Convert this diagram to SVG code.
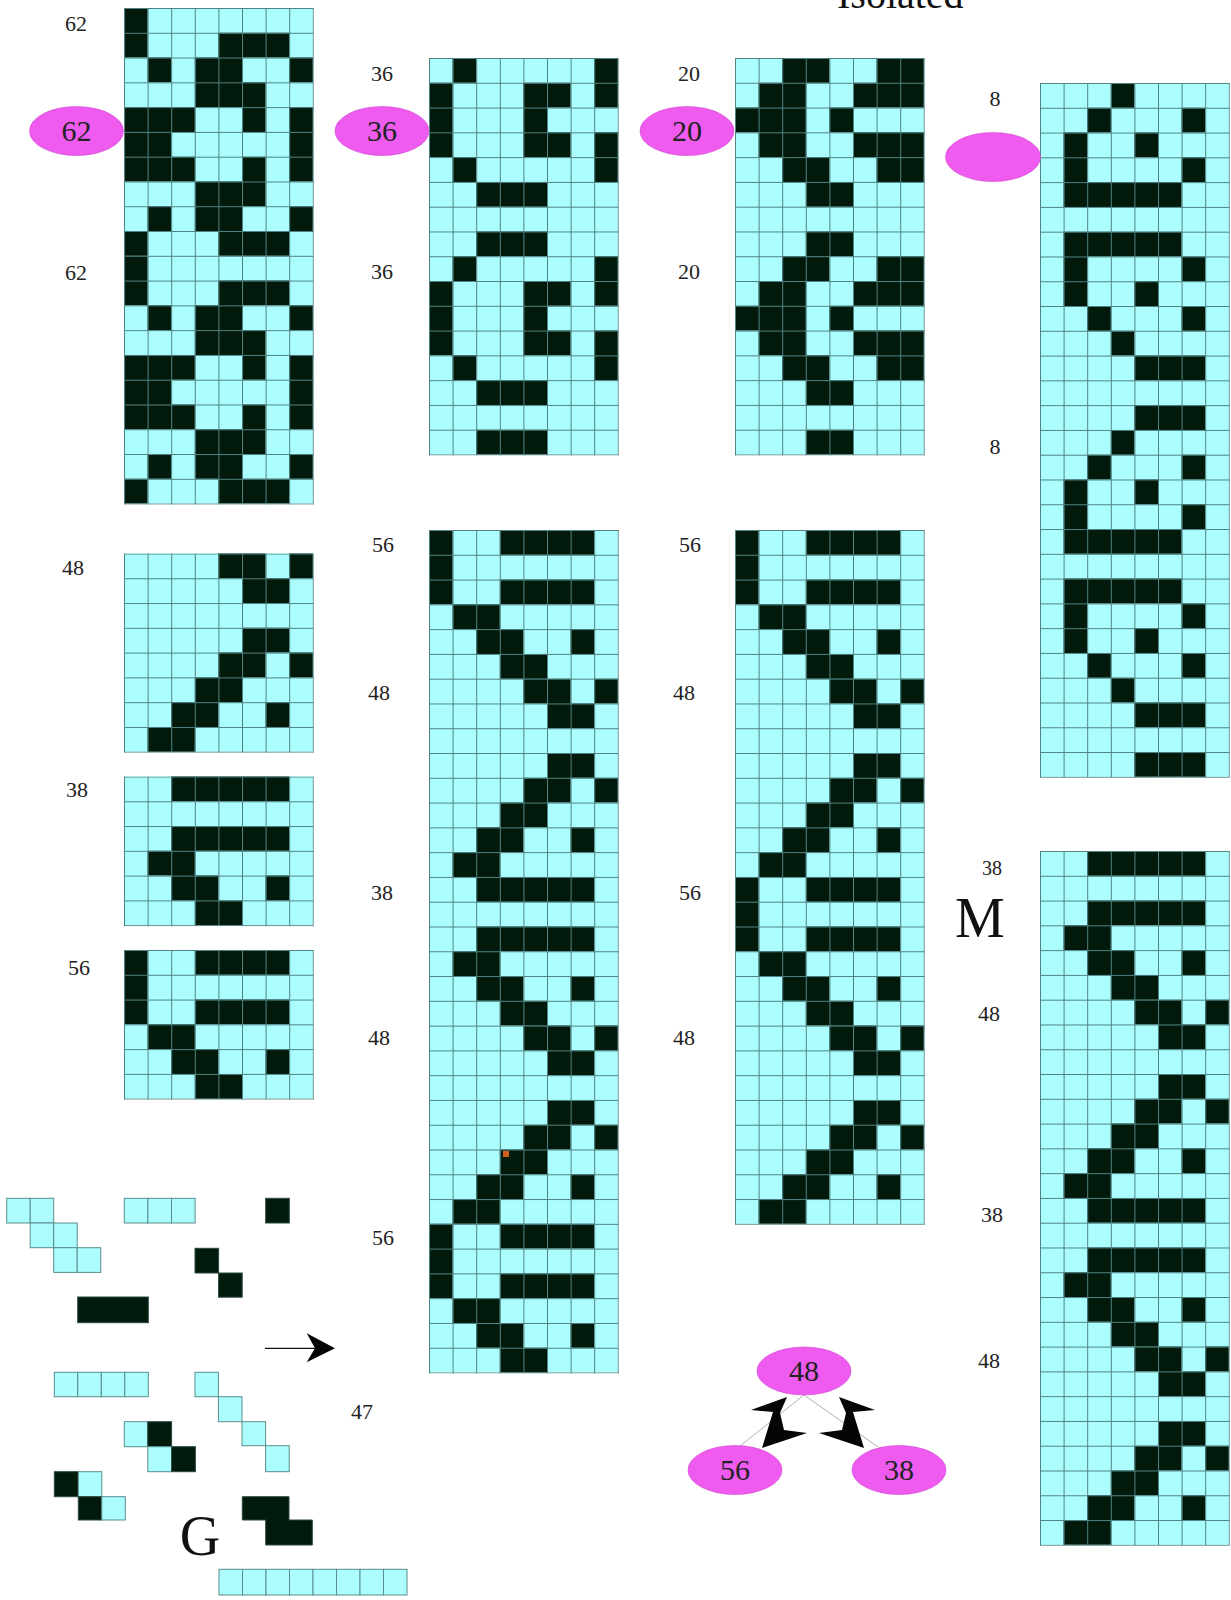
<svg xmlns="http://www.w3.org/2000/svg" xmlns:xlink="http://www.w3.org/1999/xlink" width="1231" height="1600" viewBox="0 0 1231 1600">
<style>
.bg{fill:#acfefe}
.blk{fill:#021a0c}
.lbl{font-family:"Liberation Serif","Times New Roman",serif;font-size:22px;fill:#222;text-anchor:middle}
.big{font-size:30px}
.huge{font-family:"Liberation Serif","Times New Roman",serif;font-size:56px;fill:#111;text-anchor:middle}
.node{fill:#ee5bee;stroke:#d048d0;stroke-width:0.6}
.edge{stroke:#b0b0b0;stroke-width:1;fill:none}
.zz{fill:#050505}
.c{fill:#acfefe;stroke:#5a8c8c;stroke-width:1}
.k{fill:#021a0c;stroke:#2a4a40;stroke-width:1}
</style>
<defs>
<pattern id="gl" width="23.6" height="24.78" patternUnits="userSpaceOnUse">
<rect width="23.6" height="1" fill="#4f8282"/>
<rect width="1" height="24.78" fill="#4f8282"/>
</pattern>
<path id="p62" d="M0 0H1V2H0ZM4 1H7V2H5V3H6V4H3V2H4ZM1 2h1v1h-1zM7 2h1v1h-1zM0 4H3V5H2V6H3V7H0ZM5 4h1v1h-1zM5 6h1v1h-1zM7 4H8V7H7ZM3 7H6V8H5V9H7V10H4V9H3ZM1 8h1v1h-1zM7 8h1v1h-1zM0 9h1v1h-1z"/>
<path id="s56" d="M0 0H1V3H0ZM3 0H7V1H3ZM3 2H7V3H3ZM1 3H3V4H4V5H5V6H3V5H2V4H1ZM6 4h1v1h-1z"/>
<path id="s48" d="M4 0H6V1H7V2H5V1H4ZM7 0h1v1h-1zM5 3H7V4H6V5H5V6H4V7H3V8H1V7H2V6H3V5H4V4H5ZM7 4h1v1h-1zM6 6h1v1h-1z"/>
<path id="s38" d="M2 0H7V1H2ZM2 2H7V3H3V4H4V5H5V6H3V5H2V4H1V3H2ZM6 4h1v1h-1z"/>
<path id="s36" d="M1 0h1v1h-1zM7 0H8V2H7ZM0 1H1V4H0ZM4 1H6V2H5V3H6V4H4ZM7 3H8V5H7ZM1 4h1v1h-1zM2 5H5V6H2ZM2 7H5V8H2Z"/>
<path id="s20" d="M2 0H4V1H3V4H4V5H5V6H3V5H2V4H1V3H0V2H1V1H2ZM6 0H8V2H5V1H6ZM4 2h1v1h-1zM5 3H8V5H6V4H5ZM3 7H5V8H3Z"/>
<path id="s8" d="M3 0h1v1h-1zM2 1h1v1h-1zM6 1h1v1h-1zM1 2H2V4H6V5H1ZM4 2h1v1h-1zM6 3h1v1h-1zM1 6H6V7H2V9H1ZM6 7h1v1h-1zM4 8h1v1h-1zM2 9h1v1h-1zM6 9h1v1h-1zM3 10h1v1h-1zM4 11H7V12H4ZM4 13H7V14H4Z"/>
</defs>
<rect width="1231" height="1600" fill="#ffffff"/>

<text x="837" y="8" style="font-family:'Liberation Serif','Times New Roman',serif;font-size:40px;fill:#111">Isolated</text>

<!-- Column 1 -->
<g id="grid-c1-top" transform="translate(124 8)">
<rect class="bg" width="188.8" height="495.6"/>
<g class="blk" transform="scale(23.6 24.78)"><use xlink:href="#p62" href="#p62"/><use xlink:href="#p62" href="#p62" y="10"/></g>
<rect width="189.8" height="496.6" fill="url(#gl)"/>
</g>
<g id="grid-c1-48" transform="translate(124 553.5)">
<rect class="bg" width="188.8" height="198.2"/>
<g class="blk" transform="scale(23.6 24.78)"><use xlink:href="#s48" href="#s48"/></g>
<rect width="189.8" height="199.2" fill="url(#gl)"/>
</g>
<g id="grid-c1-38" transform="translate(124 776.5)">
<rect class="bg" width="188.8" height="148.7"/>
<g class="blk" transform="scale(23.6 24.78)"><use xlink:href="#s38" href="#s38"/></g>
<rect width="189.8" height="149.7" fill="url(#gl)"/>
</g>
<g id="grid-c1-56" transform="translate(124 950)">
<rect class="bg" width="188.8" height="148.7"/>
<g class="blk" transform="scale(23.6 24.78)"><use xlink:href="#s56" href="#s56"/></g>
<rect width="189.8" height="149.7" fill="url(#gl)"/>
</g>

<!-- Column 2 -->
<g id="grid-c2-top" transform="translate(429 58)">
<rect class="bg" width="188.8" height="396.5"/>
<g class="blk" transform="scale(23.6 24.78)"><use xlink:href="#s36" href="#s36"/><use xlink:href="#s36" href="#s36" y="8"/></g>
<rect width="189.8" height="397.5" fill="url(#gl)"/>
</g>
<g id="grid-c2-bottom" transform="translate(429 530)">
<rect class="bg" width="188.8" height="842.5"/>
<g class="blk" transform="scale(23.6 24.78)"><use xlink:href="#s56" href="#s56"/><use xlink:href="#s48" href="#s48" y="6"/><use xlink:href="#s38" href="#s38" y="14"/><use xlink:href="#s48" href="#s48" y="20"/><use xlink:href="#s56" href="#s56" y="28"/></g>
<rect width="189.8" height="843.5" fill="url(#gl)"/>
<rect x="74" y="621" width="6" height="6" fill="#d2601a"/>
</g>

<!-- Column 3 -->
<g id="grid-c3-top" transform="translate(735 58)">
<rect class="bg" width="188.8" height="396.5"/>
<g class="blk" transform="scale(23.6 24.78)"><use xlink:href="#s20" href="#s20"/><use xlink:href="#s20" href="#s20" y="8"/></g>
<rect width="189.8" height="397.5" fill="url(#gl)"/>
</g>
<g id="grid-c3-bottom" transform="translate(735 530)">
<rect class="bg" width="188.8" height="693.8"/>
<g class="blk" transform="scale(23.6 24.78)"><use xlink:href="#s56" href="#s56"/><use xlink:href="#s48" href="#s48" y="6"/><use xlink:href="#s56" href="#s56" y="14"/><use xlink:href="#s48" href="#s48" y="20"/></g>
<rect width="189.8" height="694.8" fill="url(#gl)"/>
</g>

<!-- Column 4 -->
<g id="grid-c4-top" transform="translate(1040 83)">
<rect class="bg" width="188.8" height="693.8"/>
<g class="blk" transform="scale(23.6 24.78)"><use xlink:href="#s8" href="#s8"/><use xlink:href="#s8" href="#s8" y="14"/></g>
<rect width="189.8" height="694.8" fill="url(#gl)"/>
</g>
<g id="grid-c4-bottom" transform="translate(1040 851)">
<rect class="bg" width="188.8" height="693.8"/>
<g class="blk" transform="scale(23.6 24.78)"><use xlink:href="#s38" href="#s38"/><use xlink:href="#s48" href="#s48" y="6"/><use xlink:href="#s38" href="#s38" y="14"/><use xlink:href="#s48" href="#s48" y="20"/></g>
<rect width="189.8" height="694.8" fill="url(#gl)"/>
</g>

<!-- Labels -->
<g id="labels" class="lbl">
<text x="76" y="31">62</text>
<text x="76" y="280">62</text>
<text x="73" y="575">48</text>
<text x="77" y="797">38</text>
<text x="79" y="975">56</text>
<text x="382" y="81">36</text>
<text x="382" y="279">36</text>
<text x="383" y="552">56</text>
<text x="379" y="700">48</text>
<text x="382" y="900">38</text>
<text x="379" y="1045">48</text>
<text x="383" y="1245">56</text>
<text x="362" y="1419">47</text>
<text x="689" y="81">20</text>
<text x="689" y="279">20</text>
<text x="690" y="552">56</text>
<text x="684" y="700">48</text>
<text x="690" y="900">56</text>
<text x="684" y="1045">48</text>
<text x="995" y="106">8</text>
<text x="995" y="454">8</text>
<text x="992" y="875" style="font-size:20px">38</text>
<text x="989" y="1021">48</text>
<text x="992" y="1222">38</text>
<text x="989" y="1368">48</text>
</g>
<text class="huge" x="980" y="937">M</text>
<text class="huge" x="200" y="1555">G</text>

<!-- Ellipse nodes -->
<g id="node-62"><ellipse class="node" cx="76.5" cy="131" rx="47" ry="24.5"/><text class="lbl big" x="76.5" y="141">62</text></g>
<g id="node-36"><ellipse class="node" cx="382" cy="131" rx="47" ry="24.5"/><text class="lbl big" x="382" y="141">36</text></g>
<g id="node-20"><ellipse class="node" cx="687" cy="131" rx="47" ry="24.5"/><text class="lbl big" x="687" y="141">20</text></g>
<g id="node-8"><ellipse class="node" cx="993" cy="157" rx="47.5" ry="24.5"/></g>

<!-- Small graph -->
<g id="connectors">
<path class="edge" d="M740 1446L804 1395M804 1395L878 1447"/>
<polygon class="zz" points="787,1397 751,1410 773,1412 762,1448 807,1433 784,1430 780,1413"/>
<polygon class="zz" points="839,1397 875,1410 853,1412 864,1448 819,1433 842,1430 846,1413"/>
<path d="M265 1348.3H322" stroke="#111" stroke-width="1.2" fill="none"/>
<polygon class="zz" points="335,1348.3 306.7,1333.3 315,1348.3 306.7,1362.3"/>
</g>
<g id="node-48"><ellipse class="node" cx="804" cy="1371" rx="47" ry="24"/><text class="lbl big" x="804" y="1381">48</text></g>
<g id="node-56"><ellipse class="node" cx="735" cy="1470" rx="47" ry="24.5"/><text class="lbl big" x="735" y="1480">56</text></g>
<g id="node-38"><ellipse class="node" cx="899" cy="1470" rx="47" ry="24.5"/><text class="lbl big" x="899" y="1480">38</text></g>

<!-- Loose pieces bottom-left -->
<g id="pieces">
<rect class="c" x="6.7" y="1198.3" width="23.5" height="24.7"/>
<rect class="c" x="30.2" y="1198.3" width="23.5" height="24.7"/>
<rect class="c" x="30.2" y="1223" width="23.5" height="24.7"/>
<rect class="c" x="53.7" y="1223" width="23.5" height="24.7"/>
<rect class="c" x="53.7" y="1247.7" width="23.5" height="24.7"/>
<rect class="c" x="77.2" y="1247.7" width="23.5" height="24.7"/>

<rect class="c" x="124.3" y="1198.3" width="23.6" height="24.7"/>
<rect class="c" x="147.9" y="1198.3" width="23.6" height="24.7"/>
<rect class="c" x="171.5" y="1198.3" width="23.6" height="24.7"/>

<rect class="k" x="265.7" y="1198.3" width="23.6" height="24.7"/>

<rect class="k" x="195" y="1248.3" width="23.6" height="24.7"/>
<rect class="k" x="218.6" y="1273" width="23.6" height="24.2"/>

<rect class="k" x="77.7" y="1297" width="70.6" height="25.7"/>

<rect class="c" x="54.3" y="1372.3" width="23.5" height="24.4"/>
<rect class="c" x="77.8" y="1372.3" width="23.5" height="24.4"/>
<rect class="c" x="101.3" y="1372.3" width="23.5" height="24.4"/>
<rect class="c" x="124.8" y="1372.3" width="23.5" height="24.4"/>

<rect class="c" x="195" y="1372.3" width="23.4" height="24.4"/>
<rect class="c" x="218.4" y="1396.7" width="23.6" height="25"/>
<rect class="c" x="242" y="1421.7" width="23.6" height="24"/>
<rect class="c" x="265.6" y="1445.7" width="23.6" height="26"/>

<rect class="c" x="124.3" y="1421.7" width="23.5" height="25"/>
<rect class="k" x="147.8" y="1421.7" width="23.8" height="25"/>
<rect class="c" x="147.8" y="1446.7" width="23.8" height="25"/>
<rect class="k" x="171.6" y="1446.7" width="23.8" height="25"/>

<rect class="k" x="54.3" y="1471.7" width="24" height="25"/>
<rect class="c" x="78.3" y="1471.7" width="23.5" height="25"/>
<rect class="k" x="78.3" y="1496.7" width="23.5" height="23.3"/>
<rect class="c" x="101.8" y="1496.7" width="23.5" height="23.3"/>

<path class="k" d="M242.3 1496.7H289V1520H312.3V1545H265.7V1520H242.3Z"/>

<rect class="c" x="219" y="1569.3" width="23.5" height="25.7"/>
<rect class="c" x="242.5" y="1569.3" width="23.5" height="25.7"/>
<rect class="c" x="266" y="1569.3" width="23.5" height="25.7"/>
<rect class="c" x="289.5" y="1569.3" width="23.5" height="25.7"/>
<rect class="c" x="313" y="1569.3" width="23.5" height="25.7"/>
<rect class="c" x="336.5" y="1569.3" width="23.5" height="25.7"/>
<rect class="c" x="360" y="1569.3" width="23.5" height="25.7"/>
<rect class="c" x="383.5" y="1569.3" width="23.5" height="25.7"/>
</g>
</svg>
